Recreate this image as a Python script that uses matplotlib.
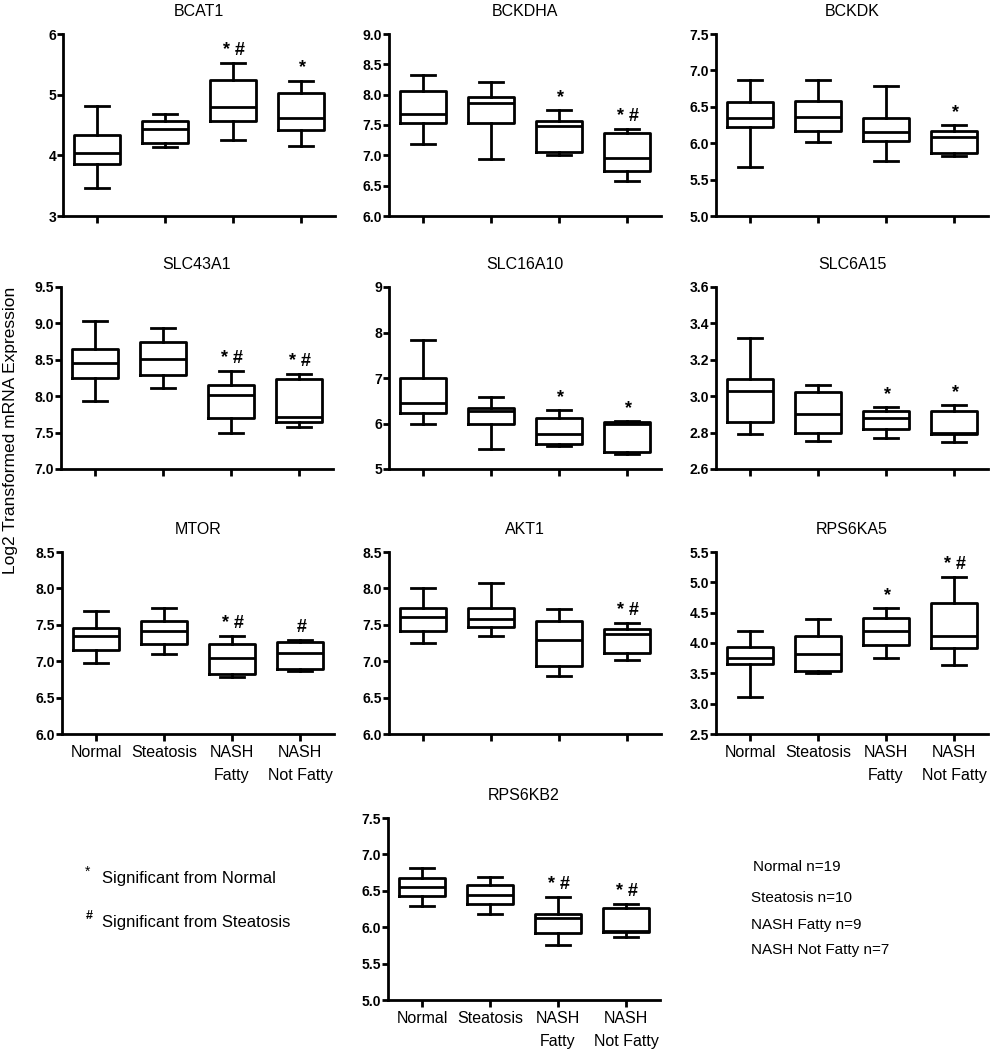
import matplotlib
matplotlib.use('Agg')
import matplotlib.pyplot as plt
from matplotlib.ticker import FormatStrFormatter, MultipleLocator

plt.rcParams['font.family'] = ['Liberation Sans', 'DejaVu Sans']

groups = ['Normal', 'Steatosis', 'NASH\nFatty', 'NASH\nNot Fatty']

# per group: [whisker low, Q1, median, Q3, whisker high]
bcat1 = [[3.46, 3.86, 4.04, 4.34, 4.81], [4.13, 4.20, 4.43, 4.57, 4.68],
         [4.25, 4.57, 4.80, 5.25, 5.52], [4.16, 4.41, 4.62, 5.02, 5.23]]
bckdha = [[7.19, 7.54, 7.68, 8.06, 8.32], [6.94, 7.53, 7.87, 7.96, 8.21],
          [7.01, 7.06, 7.48, 7.56, 7.74], [6.58, 6.75, 6.95, 7.37, 7.43]]
bckdk = [[5.67, 6.22, 6.35, 6.57, 6.87], [6.01, 6.17, 6.36, 6.58, 6.87],
         [5.75, 6.03, 6.15, 6.35, 6.78], [5.83, 5.87, 6.09, 6.17, 6.25]]
slc43a1 = [[7.94, 8.25, 8.45, 8.65, 9.03], [8.11, 8.29, 8.51, 8.75, 8.94],
           [7.50, 7.70, 8.02, 8.16, 8.34], [7.58, 7.64, 7.71, 8.23, 8.30]]
slc16a10 = [[5.98, 6.24, 6.46, 6.99, 7.84], [5.44, 6.00, 6.27, 6.35, 6.58],
            [5.51, 5.55, 5.77, 6.11, 6.29], [5.34, 5.38, 5.98, 6.04, 6.06]]
slc6a15 = [[2.795, 2.86, 3.03, 3.095, 3.32], [2.755, 2.80, 2.90, 3.025, 3.06],
           [2.77, 2.82, 2.88, 2.92, 2.94], [2.75, 2.79, 2.80, 2.92, 2.95]]
mtor = [[6.97, 7.16, 7.34, 7.45, 7.69], [7.10, 7.23, 7.41, 7.55, 7.73],
        [6.78, 6.82, 7.05, 7.23, 7.35], [6.86, 6.89, 7.11, 7.27, 7.29]]
akt1 = [[7.25, 7.42, 7.61, 7.73, 8.00], [7.34, 7.47, 7.58, 7.73, 8.07],
        [6.79, 6.93, 7.29, 7.55, 7.72], [7.02, 7.11, 7.37, 7.44, 7.52]]
rps6ka5 = [[3.11, 3.66, 3.75, 3.93, 4.20], [3.51, 3.54, 3.82, 4.11, 4.39],
           [3.75, 3.96, 4.20, 4.41, 4.57], [3.63, 3.92, 4.12, 4.66, 5.09]]
rps6kb2 = [[6.29, 6.43, 6.55, 6.67, 6.81], [6.18, 6.32, 6.44, 6.58, 6.69],
           [5.76, 5.92, 6.12, 6.18, 6.41], [5.86, 5.94, 5.95, 6.26, 6.32]]

# significance marks per group
marks_bcat1 = ['', '', '* #', '*']
marks_bckdha = ['', '', '*', '* #']
marks_bckdk = ['', '', '', '*']
marks_slc43a1 = ['', '', '* #', '* #']
marks_slc16a10 = ['', '', '*', '*']
marks_slc6a15 = ['', '', '*', '*']
marks_mtor = ['', '', '* #', '#']
marks_akt1 = ['', '', '', '* #']
marks_rps6ka5 = ['', '', '*', '* #']
marks_rps6kb2 = ['', '', '* #', '* #']

group_n = ['Normal n=19', 'Steatosis n=10', 'NASH Fatty n=9', 'NASH Not Fatty n=7']

W, H = 990, 1050
LW = 2.0


def rect(x, top):
    return [x / W, 1 - (top + 182) / H, 272 / W, 182 / H]


panels = [
    ('BCAT1', bcat1, marks_bcat1, (3, 6), 1, '%d', rect(63, 34), False),
    ('BCKDHA', bckdha, marks_bckdha, (6, 9), 0.5, '%.1f', rect(389, 34), False),
    ('BCKDK', bckdk, marks_bckdk, (5, 7.5), 0.5, '%.1f', rect(716, 34), False),
    ('SLC43A1', slc43a1, marks_slc43a1, (7, 9.5), 0.5, '%.1f', rect(61, 287), False),
    ('SLC16A10', slc16a10, marks_slc16a10, (5, 9), 1, '%d', rect(389, 287), False),
    ('SLC6A15', slc6a15, marks_slc6a15, (2.6, 3.6), 0.2, '%.1f', rect(716, 287), False),
    ('MTOR', mtor, marks_mtor, (6, 8.5), 0.5, '%.1f', rect(62, 552), True),
    ('AKT1', akt1, marks_akt1, (6, 8.5), 0.5, '%.1f', rect(389, 552), False),
    ('RPS6KA5', rps6ka5, marks_rps6ka5, (2.5, 5.5), 0.5, '%.1f', rect(716, 552), True),
    ('RPS6KB2', rps6kb2, marks_rps6kb2, (5, 7.5), 0.5, '%.1f', rect(388, 818), True),
]

fig = plt.figure(figsize=(W / 100, H / 100), dpi=100)

for title, data, marks, ylim, step, fmt, pos, show_x in panels:
    ax = fig.add_axes(pos)
    stats = [dict(whislo=d[0], q1=d[1], med=d[2], q3=d[3], whishi=d[4], fliers=[])
             for d in data]
    line = dict(color='black', linewidth=LW)
    ax.bxp(stats, positions=range(4), widths=0.68, capwidths=0.36,
           showfliers=False, boxprops=line, whiskerprops=line,
           capprops=line, medianprops=line)
    for i, m in enumerate(marks):
        if m:
            ax.annotate(m, (i, data[i][4]), xytext=(1, 3), textcoords='offset points',
                        ha='center', va='bottom', fontsize=13, fontweight='bold')
    ax.set_xlim(-0.5, 3.5)
    ax.set_ylim(*ylim)
    ax.yaxis.set_major_locator(MultipleLocator(step))
    ax.yaxis.set_major_formatter(FormatStrFormatter(fmt))
    ax.set_xticks(range(4))
    if show_x:
        ax.set_xticklabels(groups, fontsize=11.5, linespacing=1.65, va='top')
    else:
        ax.set_xticklabels([])
    for lab in ax.get_yticklabels():
        lab.set_fontweight('bold')
    ax.tick_params(axis='y', labelsize=10, width=LW, length=4, pad=1)
    ax.tick_params(axis='x', width=LW, length=5, pad=3)
    for s in ('top', 'right'):
        ax.spines[s].set_visible(False)
    for s in ('left', 'bottom'):
        ax.spines[s].set_linewidth(LW)
    ax.set_title(title, fontsize=11.5, pad=13)

fig.text(11 / W, 1 - 430 / H, 'Log2 Transformed mRNA Expression', rotation=90,
         ha='center', va='center', fontsize=12.5)

fig.text(88 / W, 1 - 872 / H, '*', ha='center', va='center', fontsize=10)
fig.text(102 / W, 1 - 879 / H, 'Significant from Normal', ha='left', va='center', fontsize=12)
fig.text(89 / W, 1 - 916 / H, '#', ha='center', va='center', fontsize=9, fontweight='bold')
fig.text(102 / W, 1 - 923 / H, 'Significant from Steatosis', ha='left', va='center', fontsize=12)

for k, (txt, y) in enumerate(zip(group_n, (867, 898, 925, 950))):
    fig.text((753 if k == 0 else 751) / W, 1 - y / H, txt, ha='left', va='center', fontsize=11)

fig.savefig('out.png', dpi=100)
